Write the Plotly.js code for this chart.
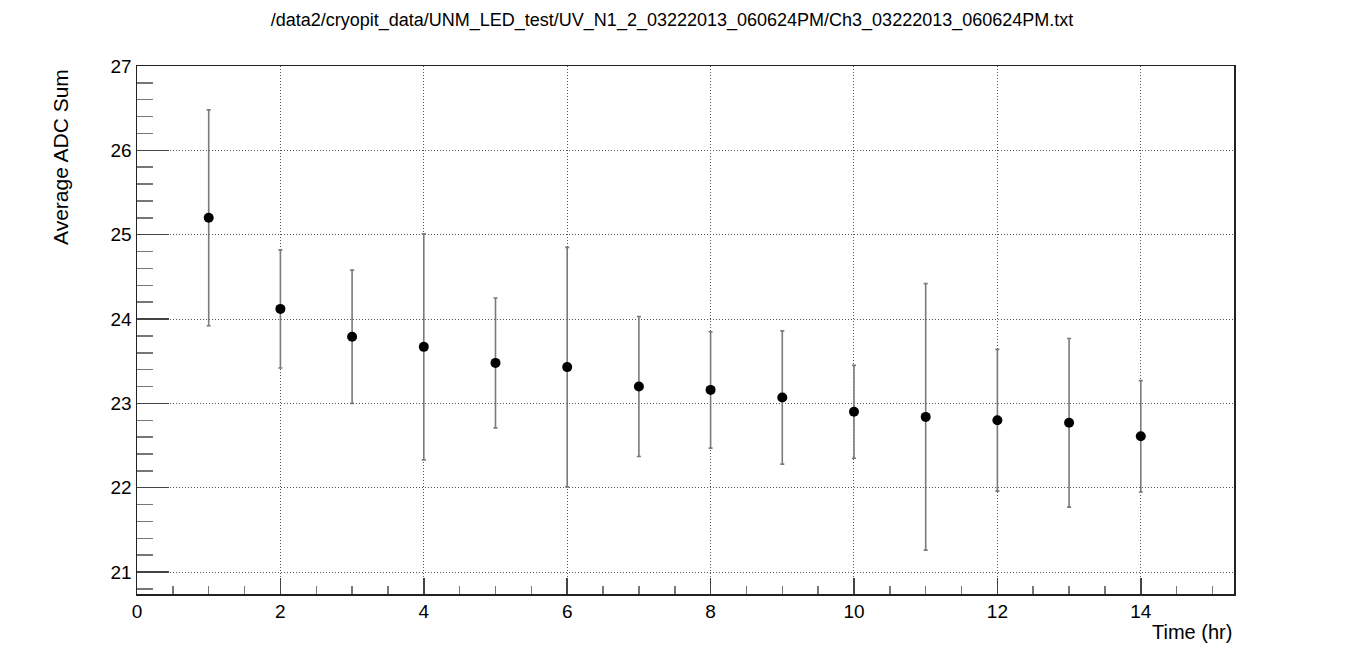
<!DOCTYPE html>
<html>
<head>
<meta charset="utf-8">
<script src="https://cdn.plot.ly/plotly-3.0.1.min.js"></script>
<style>
    html, body { margin: 0; padding: 0; background: #fff; }
    #plot { width: 1372px; height: 662px; }
</style>
</head>
<body>
<div id="plot"></div>
<script>
// values
const timeHr = [1, 2, 3, 4, 5, 6, 7, 8, 9, 10, 11, 12, 13, 14];
const avgAdcSum = [25.20, 24.12, 23.79, 23.67, 23.48, 23.43, 23.20, 23.16, 23.07, 22.90, 22.84, 22.80, 22.77, 22.61];
const adcErr = [1.28, 0.70, 0.79, 1.34, 0.77, 1.42, 0.83, 0.69, 0.79, 0.55, 1.58, 0.84, 1.00, 0.66];

const plotTitle = '/data2/cryopit_data/UNM_LED_test/UV_N1_2_03222013_060624PM/Ch3_03222013_060624PM.txt';
const xLabel = 'Time (hr)';
const yLabel = 'Average ADC Sum';

const FONT = '"Liberation Sans", Arial, Helvetica, sans-serif';

const trace = {
    x: timeHr,
    y: avgAdcSum,
    type: 'scatter',
    mode: 'markers',
    marker: { color: '#000', size: 10 },
    error_y: { type: 'data', array: adcErr, visible: true, color: '#7a7a7a', thickness: 1.6, width: 2 },
    hoverinfo: 'x+y'
};

// ROOT-like axes: inside ticks, dotted grid, closed frame
const axisCommon = {
    showline: true,
    mirror: true,
    linecolor: '#222',
    linewidth: 1.5,
    showgrid: true,
    gridcolor: '#555',
    griddash: '1px,2px',
    gridwidth: 1,
    zeroline: false,
    ticks: 'inside',
    tickcolor: '#444',
    tickwidth: 1.5,
    tickfont: { family: FONT, size: 19, color: '#000' }
};

const layout = {
    width: 1372,
    height: 662,
    margin: { l: 137, r: 138, t: 66, b: 68 },
    paper_bgcolor: '#fff',
    plot_bgcolor: '#fff',
    showlegend: false,
    font: { family: FONT, color: '#000' },
    title: {
        text: plotTitle,
        font: { family: FONT, size: 18, color: '#000' },
        xref: 'container', yref: 'container',
        x: 672 / 1372, y: 1 - 20 / 662,
        xanchor: 'center', yanchor: 'middle'
    },
    xaxis: {
        ...axisCommon,
        range: [0, 15.3],
        tick0: 0,
        dtick: 2,
        ticklen: 16,
        minor: { ticks: 'inside', dtick: 0.5, tick0: 0, ticklen: 8, tickcolor: '#777', tickwidth: 1.5, showgrid: false }
    },
    yaxis: {
        ...axisCommon,
        range: [20.74, 27],
        tick0: 21,
        dtick: 1,
        ticklen: 32,
        minor: { ticks: 'inside', dtick: 0.2, tick0: 21, ticklen: 16, tickcolor: '#777', tickwidth: 1.5, showgrid: false }
    },
    annotations: [
        {
            text: xLabel,
            xref: 'paper', yref: 'paper',
            x: 1, y: 0,
            xanchor: 'right', yanchor: 'top',
            yshift: -25,
            showarrow: false,
            font: { family: FONT, size: 20, color: '#000' }
        },
        {
            text: yLabel,
            xref: 'paper', yref: 'paper',
            x: 0, y: (594 - 157) / 528,
            xanchor: 'center', yanchor: 'middle',
            xshift: -77,
            textangle: -90,
            showarrow: false,
            font: { family: FONT, size: 21, color: '#000' }
        }
    ]
};

Plotly.newPlot('plot', [trace], layout, { displayModeBar: false, staticPlot: true });
</script>
</body>
</html>
